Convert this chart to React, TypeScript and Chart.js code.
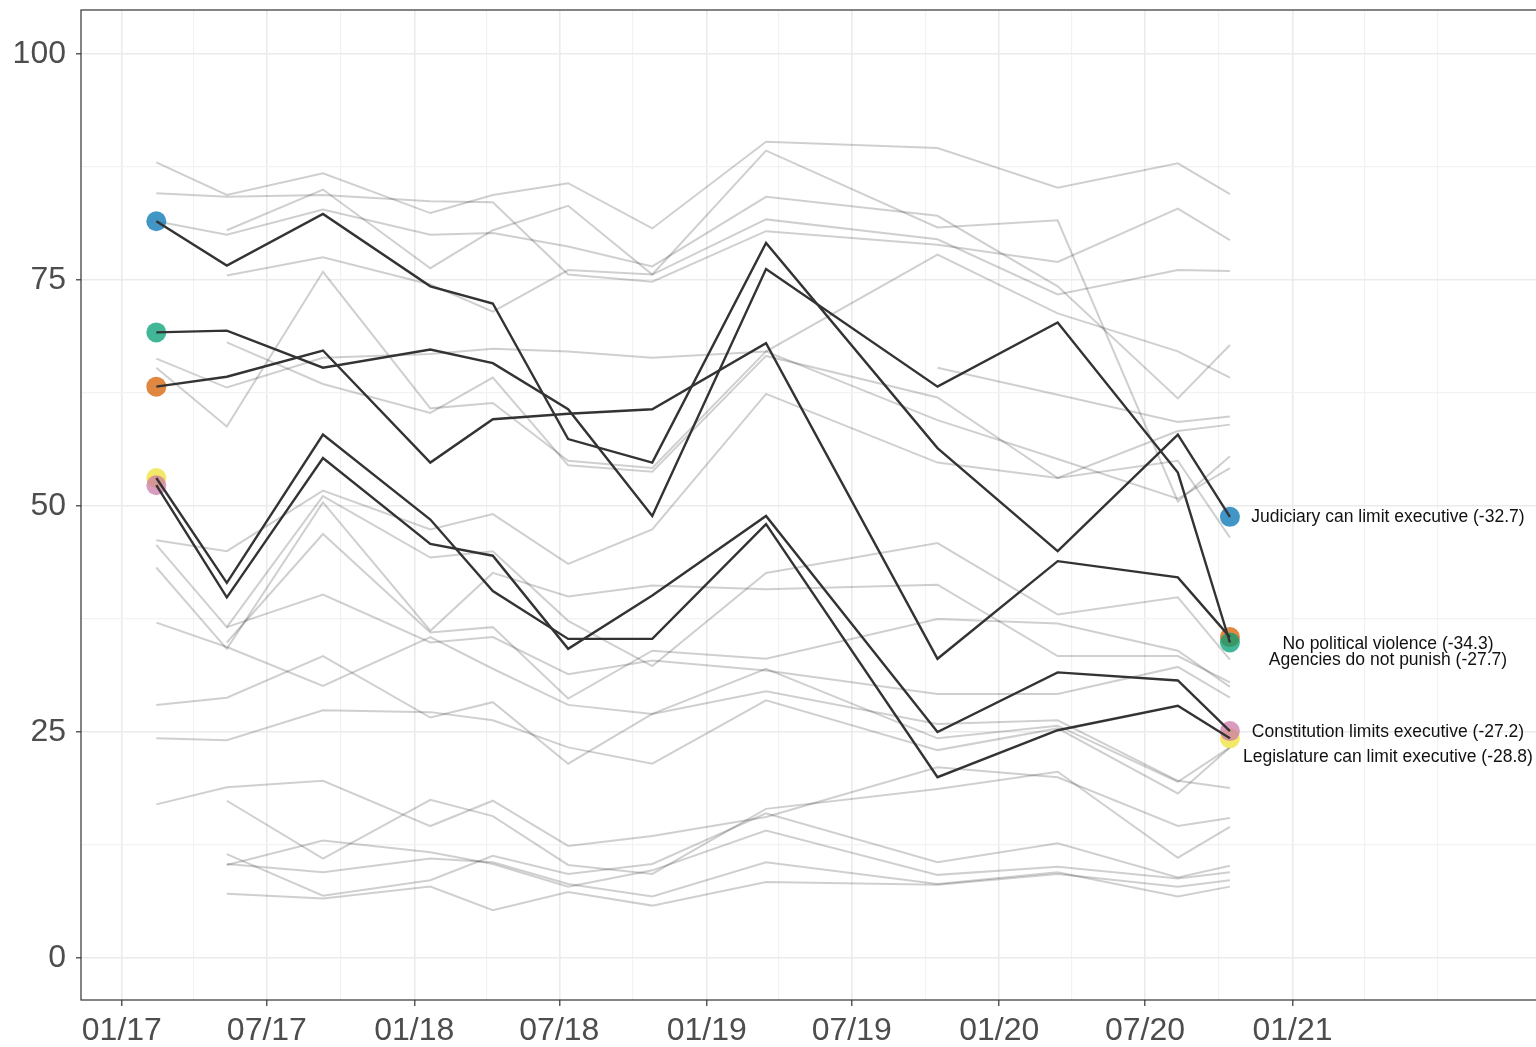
import React, { useEffect, useRef } from "react";
import { Chart, registerables } from "chart.js";

Chart.register(...registerables);

// ---- Survey waves (x positions) ----
const surveyDates = [
  "2017-02-13", "2017-05-12", "2017-09-09", "2018-01-21", "2018-04-09", "2018-07-12",
  "2018-10-25", "2019-03-16", "2019-10-16", "2020-03-14", "2020-08-11", "2020-10-15",
];

// ---- Highlighted series ----
const judiciary = [81.5, 76.6, 82.3, 74.3, 72.4, 57.4, 54.8, 79.1, 56.4, 45.0, 57.9, 48.8];
const noPoliticalViolence = [69.2, 69.4, 65.3, 67.3, 65.8, 60.7, 48.9, 76.2, 63.2, 70.3, 53.7, 34.9];
const agenciesDoNotPunish = [63.2, 64.3, 67.2, 54.8, 59.6, 60.2, 60.7, 68.0, 33.1, 43.9, 42.1, 35.5];
const constitutionLimits = [52.3, 39.9, 55.3, 45.8, 44.5, 34.2, 40.1, 48.9, 25.0, 31.6, 30.7, 25.1];
const legislatureLimits = [53.1, 41.5, 57.9, 48.5, 40.6, 35.3, 35.3, 48.0, 20.0, 25.2, 27.9, 24.3];

const highlightNames = [
  "Judiciary can limit executive",
  "No political violence",
  "Agencies do not punish",
  "Constitution limits executive",
  "Legislature can limit executive",
];
const highlightChanges = ["-32.7", "-34.3", "-27.7", "-27.2", "-28.8"];
const highlightSeries = [judiciary, noPoliticalViolence, agenciesDoNotPunish, constitutionLimits, legislatureLimits];
const highlightColors = [
  "rgba(0,114,178,0.74)",
  "rgba(0,158,115,0.74)",
  "rgba(213,94,0,0.74)",
  "rgba(204,121,167,0.74)",
  "rgba(240,228,66,0.8)",
];
// label placement relative to the last point (pixels)
const labelDx = [158, 158, 158, 158, 158];
const labelDy = [0, 2, 23, 1, 19];

// ---- Background (grey) series ----
const grey01 = [88.0, 84.4, 86.8, 82.4, 84.4, 85.7, 80.7, 90.3, 89.6, 85.2, 87.9, 84.5];
const grey02 = [84.6, 84.2, 84.4, 83.7, 83.6, 75.6, 74.8, 80.4, 78.9, 77.0, 82.9, 79.4];
const grey03 = [null, 80.5, 85.0, 76.3, 80.5, 83.2, 75.6, 89.3, 80.8, 81.6, 50.5, 55.5];
const grey04 = [81.5, 80.0, 82.8, 80.0, 80.2, 78.7, 76.5, 84.2, 82.1, 74.3, 61.9, 67.8];
const grey05 = [null, 75.5, 77.5, 74.5, 71.5, 76.1, 75.6, 81.7, 79.5, 73.4, 76.1, 76.0];
const grey06 = [66.3, 63.1, 66.4, 66.8, 67.4, 67.1, 66.4, 67.1, 77.8, 71.3, 67.1, 64.2];
const grey07 = [65.3, 58.8, 75.9, 60.8, 61.4, 55.0, 54.2, 67.1, 59.5, 55.2, 50.8, 54.2];
const grey08 = [null, 68.1, 63.5, 60.3, 64.2, 54.5, 53.8, 66.6, 62.0, 53.1, 55.0, 46.5];
const grey09 = [null, null, null, null, null, null, null, null, 65.3, 62.3, 59.3, 59.9];
const grey10 = [46.2, 45.0, 51.7, 47.4, 49.1, 43.6, 47.4, 62.4, 54.8, 53.1, 58.3, 59.0];
const grey11 = [45.7, 36.6, 51.1, 44.3, 45.0, 37.3, 32.3, 42.6, 45.9, 38.0, 39.9, 33.0];
const grey12 = [43.2, 34.2, 50.4, 36.2, 42.6, 40.0, 41.2, 40.8, 41.3, 33.4, 33.4, 30.5];
const grey13 = [null, 34.9, 46.9, 36.0, 36.6, 28.7, 34.0, 33.1, 37.5, 37.0, 34.0, 30.0];
const grey14 = [null, 36.6, 40.2, 34.9, 35.5, 31.4, 32.9, 31.8, 29.2, 29.2, 32.2, 28.8];
const grey15 = [37.1, 34.4, 30.1, 35.5, 32.0, 28.0, 27.0, 29.5, 25.9, 26.3, 19.6, 18.8];
const grey16 = [28.0, 28.8, 33.4, 26.6, 28.3, 21.5, 27.0, 32.0, 24.3, 25.7, 19.5, 23.3];
const grey17 = [24.3, 24.1, 27.4, 27.2, 26.3, 23.3, 21.5, 28.5, 23.0, 25.4, 18.2, 23.3];
const grey18 = [17.0, 18.9, 19.6, 14.6, 17.4, 12.4, 13.5, 15.6, 21.1, 20.0, 14.6, 15.5];
const grey19 = [null, 17.4, 11.0, 17.5, 15.7, 10.3, 9.3, 16.5, 18.7, 20.6, 11.1, 14.5];
const grey20 = [null, 11.5, 6.9, 8.6, 11.3, 9.3, 10.4, 16.0, 10.6, 12.7, 8.9, 10.2];
const grey21 = [null, 10.3, 13.0, 11.7, 10.4, 7.9, 9.7, 14.1, 9.2, 10.1, 8.8, 9.5];
const grey22 = [null, 10.4, 9.5, 11.0, 10.6, 8.2, 6.8, 10.6, 8.2, 9.5, 6.8, 7.9];
const grey23 = [null, 7.1, 6.6, 7.9, 5.3, 7.3, 5.8, 8.4, 8.1, 9.3, 7.9, 8.6];
const greySeries = [
  grey01, grey02, grey03, grey04, grey05, grey06, grey07, grey08, grey09, grey10, grey11, grey12,
  grey13, grey14, grey15, grey16, grey17, grey18, grey19, grey20, grey21, grey22, grey23,
];

// ---- Axes ----
const xTickDates = [
  "2017-01-01", "2017-07-01", "2018-01-01", "2018-07-01", "2019-01-01",
  "2019-07-01", "2020-01-01", "2020-07-01", "2021-01-01",
];
const xTickLabels = ["01/17", "07/17", "01/18", "07/18", "01/19", "07/19", "01/20", "07/20", "01/21"];
const xMinorDates = [
  "2017-04-01", "2017-10-01", "2018-04-01", "2018-10-01", "2019-04-01", "2019-10-01",
  "2020-04-01", "2020-10-01", "2021-04-01", "2021-07-01",
];
// visible x window (left panel edge .. right edge of the picture)
const xRange = ["2016-11-11", "2021-11-01"];
const yTicks = [0, 25, 50, 75, 100];
const yMinorTicks = [12.5, 37.5, 62.5, 87.5];
const yRange = [-4.64, 104.86];

const VIEW_W = 1536;
const VIEW_H = 1047;
const CANVAS_W = 1580;

const dayOf = (s: string) => {
  const [y, m, d] = s.split("-").map(Number);
  return (Date.UTC(y, m - 1, d) - Date.UTC(2017, 0, 1)) / 86400000;
};

const toPoints = (vals: (number | null)[]) =>
  vals
    .map((v, i) => (v === null ? null : { x: dayOf(surveyDates[i]), y: v }))
    .filter((p) => p !== null);

const FONT = '"Liberation Sans", Arial, Helvetica, sans-serif';

export default function App() {
  const ref = useRef<HTMLCanvasElement | null>(null);

  useEffect(() => {
    if (!ref.current) return;
    const majorX = xTickDates.map(dayOf);
    const minorX = xMinorDates.map(dayOf);
    const allX = [...majorX, ...minorX].sort((a, b) => a - b);
    const xLabelMap = new Map<number, string>();
    majorX.forEach((v, i) => xLabelMap.set(v, xTickLabels[i]));
    const allY = [...yTicks, ...yMinorTicks].sort((a, b) => a - b);

    const datasets: any[] = [];
    highlightSeries.forEach((vals, i) => {
      datasets.push({
        type: "line",
        label: highlightNames[i],
        data: toPoints(vals),
        borderColor: "#333333",
        borderWidth: 2.4,
        pointRadius: 0,
        tension: 0,
        fill: false,
      });
    });
    highlightSeries.forEach((vals, i) => {
      const pts = toPoints(vals);
      datasets.push({
        type: "line",
        label: highlightNames[i] + " dots",
        data: [pts[0], pts[pts.length - 1]],
        showLine: false,
        pointRadius: 10,
        pointBackgroundColor: highlightColors[i],
        pointBorderWidth: 0,
        pointBorderColor: "rgba(0,0,0,0)",
      });
    });
    greySeries.forEach((vals, i) => {
      datasets.push({
        type: "line",
        label: "grey" + i,
        data: toPoints(vals),
        borderColor: "rgba(0,0,0,0.19)",
        borderWidth: 2,
        pointRadius: 0,
        tension: 0,
        fill: false,
      });
    });

    const panelBorder = {
      id: "panelBorder",
      afterDraw(chart: any) {
        const { ctx, chartArea } = chart;
        ctx.save();
        ctx.strokeStyle = "#333333";
        ctx.lineWidth = 1.2;
        ctx.strokeRect(chartArea.left, chartArea.top, chartArea.right - chartArea.left, chartArea.bottom - chartArea.top);
        ctx.restore();
      },
    };

    const endLabels = {
      id: "endLabels",
      afterDatasetsDraw(chart: any) {
        const { ctx } = chart;
        const xs = chart.scales.x;
        const ys = chart.scales.y;
        ctx.save();
        ctx.font = `17.5px ${FONT}`;
        ctx.fillStyle = "#111111";
        ctx.textAlign = "center";
        ctx.textBaseline = "middle";
        highlightSeries.forEach((vals, i) => {
          const last = vals.length - 1;
          const px = xs.getPixelForValue(dayOf(surveyDates[last])) + labelDx[i];
          const py = ys.getPixelForValue(vals[last]) + labelDy[i];
          ctx.fillText(`${highlightNames[i]} (${highlightChanges[i]})`, px, py);
        });
        ctx.restore();
      },
    };

    const xMin = dayOf(xRange[0]);
    const xMaxVisible = dayOf(xRange[1]);

    const chart = new Chart(ref.current, {
      type: "line",
      data: { datasets },
      options: {
        responsive: false,
        animation: false,
        events: [],
        layout: { padding: { top: 8, right: 0, left: 0, bottom: 0 } },
        plugins: { legend: { display: false }, tooltip: { enabled: false } },
        scales: {
          x: {
            type: "linear",
            min: xMin,
            max: xMaxVisible,
            afterBuildTicks: (s: any) => {
              s.ticks = allX.map((v) => ({ value: v }));
            },
            afterFit: (s: any) => {
              s.height = 47;
              s.paddingLeft = 0;
              s.paddingRight = 0;
            },
            border: { display: false },
            grid: {
              color: (c: any) => (xLabelMap.has(c.tick?.value) ? "#ebebeb" : "#f2f2f2"),
              lineWidth: (c: any) => (xLabelMap.has(c.tick?.value) ? 1.6 : 1.2),
              tickLength: 6,
              tickWidth: 1.2,
              tickColor: (c: any) => (xLabelMap.has(c.tick?.value) ? "#333333" : "rgba(0,0,0,0)"),
            },
            ticks: {
              autoSkip: false,
              maxRotation: 0,
              minRotation: 0,
              padding: 6,
              color: "#4d4d4d",
              font: { family: FONT, size: 32 },
              callback: (v: any) => xLabelMap.get(Number(v)) ?? "",
            },
          },
          y: {
            type: "linear",
            min: yRange[0],
            max: yRange[1],
            afterBuildTicks: (s: any) => {
              s.ticks = allY.map((v) => ({ value: v }));
            },
            afterFit: (s: any) => {
              s.width = 81;
              s.paddingTop = 0;
              s.paddingBottom = 0;
            },
            border: { display: false },
            grid: {
              color: (c: any) => (yTicks.includes(c.tick?.value) ? "#ebebeb" : "#f2f2f2"),
              lineWidth: (c: any) => (yTicks.includes(c.tick?.value) ? 1.6 : 1.2),
              tickLength: 5,
              tickWidth: 1.2,
              tickColor: (c: any) => (yTicks.includes(c.tick?.value) ? "#333333" : "rgba(0,0,0,0)"),
            },
            ticks: {
              autoSkip: false,
              padding: 10,
              color: "#4d4d4d",
              font: { family: FONT, size: 32 },
              callback: (v: any) => (yTicks.includes(Number(v)) ? String(v) : ""),
            },
          },
        },
      },
      plugins: [panelBorder, endLabels],
    } as any);

    // keep the date scale so that xRange spans exactly the visible part of the panel
    const area = chart.chartArea;
    const visibleW = VIEW_W - area.left;
    const newMax = xMin + ((xMaxVisible - xMin) * (area.right - area.left)) / visibleW;
    (chart.options.scales as any).x.max = newMax;
    chart.update();

    return () => chart.destroy();
  }, []);

  return (
    <div
      style={{
        position: "fixed",
        left: 0,
        top: 0,
        width: VIEW_W,
        height: VIEW_H,
        overflow: "hidden",
        background: "#fff",
      }}
    >
      <canvas
        ref={ref}
        width={CANVAS_W}
        height={VIEW_H}
        style={{ display: "block", width: CANVAS_W, height: VIEW_H }}
      />
    </div>
  );
}
